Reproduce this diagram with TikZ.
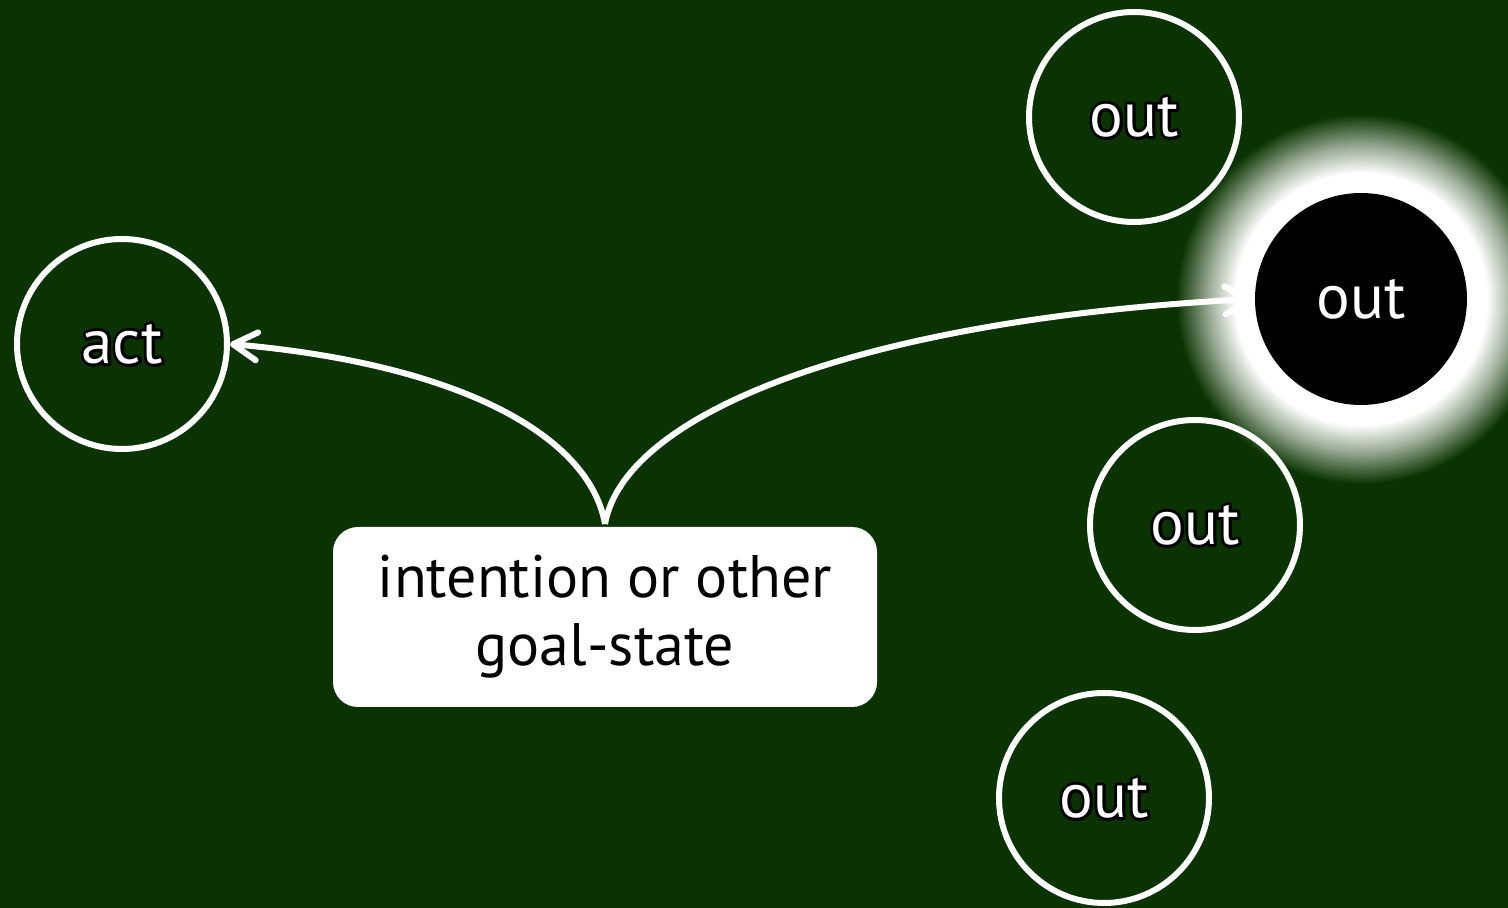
\documentclass[tikz,border=0pt]{standalone}
\usepackage{fontspec}
\setmainfont{PT Sans}
\usepackage{tikz}
\usetikzlibrary{arrows.meta,shapes,shadings}
\definecolor{bg}{RGB}{10,51,0}
\pgfdeclareradialshading{glow}{\pgfpoint{0bp}{0bp}}{color(0bp)=(white); color(17bp)=(white); color(20.5bp)=(white!60!bg); color(25bp)=(bg); color(50bp)=(bg)}
% white label with a dark outline round its letters
\newcommand{\lbl}[1]{\leavevmode\rlap{\special{pdf:literal direct 1 Tr 6 w 1 j 0 G}#1\special{pdf:literal direct 0 Tr}}\textcolor{white}{#1}}

\begin{document}
\begin{tikzpicture}[x=1pt,y=1pt,->,>={Straight Barb[length=24pt,width=28pt,round]},line width=6pt,white]
\tikzstyle{every node}=[font=\fontsize{63}{70}\selectfont]
\tikzstyle{spot}=[circle,draw=white,line width=6pt,minimum size=210pt,inner sep=0pt]
\tikzstyle{lit}=[circle,fill=black,minimum size=212pt,inner sep=0pt]
\tikzstyle{goalbox}=[rectangle,rounded corners=25pt,fill=white,text=black,minimum width=544pt,minimum height=180pt,align=center,font=\fontsize{60}{68}\selectfont]
\useasboundingbox (0,0) rectangle (1508,908);
\fill[bg] (0,0) rectangle (1508,908);
% glow behind the lit one
\shade[shading=glow] (1361,609) circle (185);
\node[spot] (act) at (122,564) {\lbl{act}};
\node[spot] (outA) at (1134,791) {\lbl{out}};
\node[lit] (outB) at (1361,609) {\textcolor{white}{out}};
\node[spot] (outC) at (1195,383) {\lbl{out}};
\node[spot] (outD) at (1104,110) {\lbl{out}};
\node[goalbox] (goal) at (605,291) {intention or other\\goal-state};
\path (goal.north) edge [out=100,in=-5,out distance=90pt,in distance=230pt] (act.east)
                   edge [out=80,in=183,out distance=110pt,in distance=400pt] (outB.west);
\end{tikzpicture}
\end{document}
